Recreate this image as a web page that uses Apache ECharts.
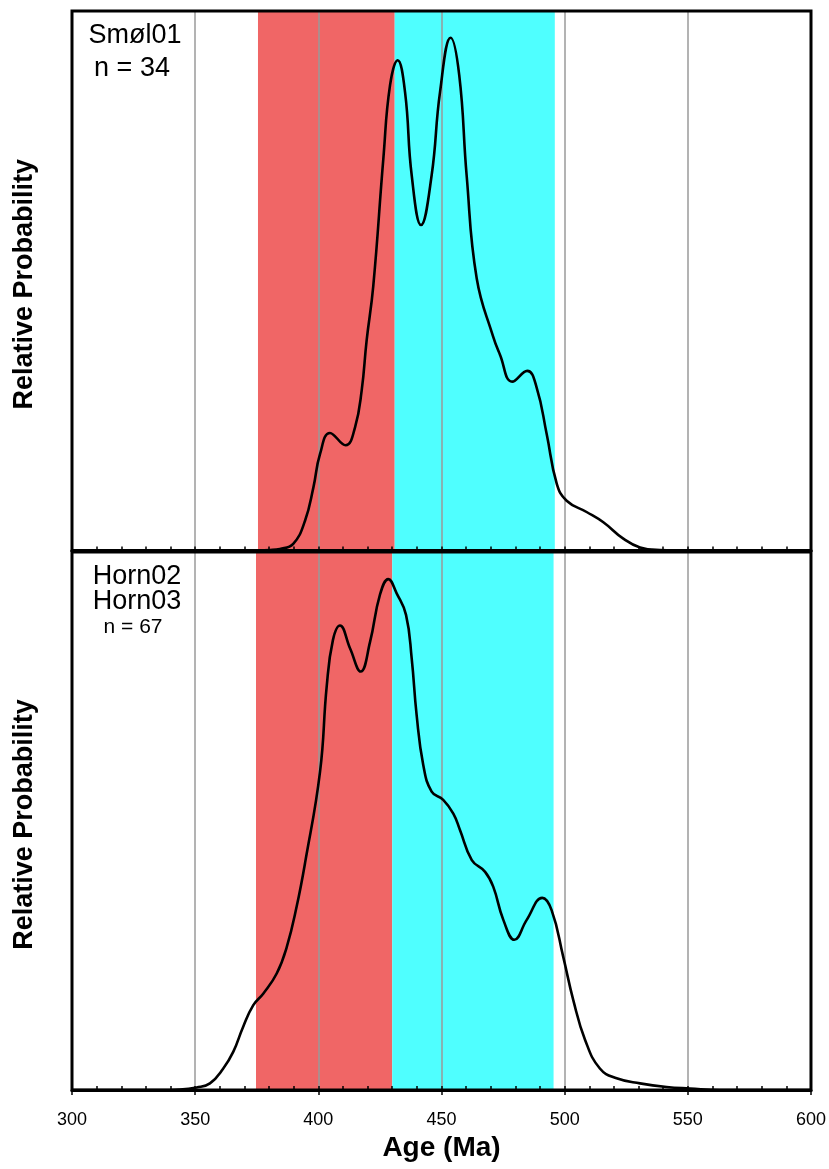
<!DOCTYPE html>
<html>
<head>
<meta charset="utf-8">
<title>Relative probability of detrital ages</title>
<script src="https://cdn.jsdelivr.net/npm/echarts@6/dist/echarts.min.js"></script>
<style>
  html, body { margin: 0; padding: 0; background: #fff; }
  #chart { width: 829px; height: 1169px; }
</style>
</head>
<body>
<div id="chart"></div>
<script>
// Smøl01 probability curve (age in Ma, relative probability)
const smolAges = [300, 370, 380.4, 384.4, 389.8, 394.6, 398.0, 400.7, 404.7, 411.1, 414.9, 417.6, 419.6,
  422.3, 426.4, 429.1, 432.2, 435.2, 437.9, 441.7, 446.0, 449.4, 453.7, 457.2, 460.2, 464.3, 471.0,
  473.7, 478.7, 484.8, 488.6, 492.7, 496.8, 500.8, 508.9, 515.7, 523.8, 530.6, 538.7, 550, 600];
const smolProb = [0, 0, 0.001, 0.003, 0.013, 0.058, 0.123, 0.188, 0.229, 0.205, 0.240, 0.312, 0.409,
  0.515, 0.764, 0.906, 0.955, 0.893, 0.731, 0.634, 0.731, 0.893, 0.999, 0.926, 0.731, 0.530, 0.416,
  0.382, 0.329, 0.350, 0.318, 0.227, 0.130, 0.097, 0.075, 0.055, 0.023, 0.006, 0.001, 0, 0];

// Horn02 + Horn03 probability curve
const hornAges = [300, 335, 343.8, 350.6, 356.0, 361.4, 365.5, 369.5, 373.6, 377.7, 383.1, 387.2, 391.2, 394.6,
  400.7, 403.4, 405.9, 408.8, 412.9, 417.2, 421.0, 425.0, 428.4, 431.8, 435.6, 437.9, 439.9, 442.6,
  446.0, 450.7, 454.8, 457.5, 462.3, 467.7, 471.0, 475.1, 479.6, 484.6, 490.9, 494.7, 499.4, 503.5, 508.3,
  514.3, 521.1, 530.6, 541.4, 550.9, 563, 600];
const hornProb = [0, 0, 0.001, 0.005, 0.013, 0.042, 0.075, 0.124, 0.166, 0.189, 0.228, 0.280, 0.359, 0.444,
  0.623, 0.790, 0.880, 0.909, 0.864, 0.819, 0.877, 0.969, 1.000, 0.972, 0.930, 0.845, 0.734, 0.636,
  0.584, 0.568, 0.541, 0.509, 0.450, 0.427, 0.398, 0.333, 0.294, 0.333, 0.376, 0.352, 0.261, 0.176, 0.098,
  0.042, 0.023, 0.013, 0.006, 0.003, 0, 0];

// Shaded age intervals [start, end] in Ma
const smolRedBand = [375.5, 431];
const smolCyanBand = [431, 496];
const hornRedBand = [374.7, 430];
const hornCyanBand = [430, 495.5];

// Age axis range and tick steps
const ageMin = 300, ageMax = 600, majorStep = 50, minorStep = 10;

const FONT = '"Liberation Sans", Arial, Helvetica, sans-serif';
const RED = '#F06666';
const CYAN = '#4FFFFF';
const GRID_GRAY = '#9a9a9a';

const pairs = (xs, ys) => xs.map((x, i) => [x, ys[i]]);

// Bands sit below the axes (z 1), gridlines above them (axis z 3), curve on top
const bandArea = (red, cyan) => ({
  silent: true,
  z: 1,
  data: [
    [{ xAxis: red[0], itemStyle: { color: RED } }, { xAxis: red[1] }],
    [{ xAxis: cyan[0], itemStyle: { color: CYAN } }, { xAxis: cyan[1] }]
  ]
});

const yNameStyle = {
  fontFamily: FONT, fontWeight: 'bold', fontSize: 27, color: '#000', padding: [0, 7, 0, 0]
};

const chart = echarts.init(document.getElementById('chart'), null, { renderer: 'canvas' });

chart.setOption({
  backgroundColor: '#fff',
  animation: false,
  grid: [
    { left: 72, right: 18, top: 11, height: 539.5, show: true, z: 4, borderColor: '#000', borderWidth: 3, containLabel: false },
    { left: 72, right: 18, top: 552, height: 538, show: true, z: 4, borderColor: '#000', borderWidth: 3, containLabel: false },
    { left: 72, right: 18, top: 552, height: 538, show: false, containLabel: false }
  ],
  xAxis: [
    {
      gridIndex: 0, type: 'value', min: ageMin, max: ageMax, interval: majorStep, z: 3,
      axisLine: { lineStyle: { color: '#000', width: 3 } },
      axisTick: { inside: true, length: 4, lineStyle: { color: '#000', width: 1.5 } },
      minorTick: { show: true, splitNumber: majorStep / minorStep, length: 4, lineStyle: { color: '#000', width: 1.5 } },
      axisLabel: { show: false },
      splitLine: { show: true, lineStyle: { color: GRID_GRAY, width: 1.5 } }
    },
    {
      gridIndex: 1, type: 'value', min: ageMin, max: ageMax, interval: majorStep, z: 3,
      axisLine: { lineStyle: { color: '#000', width: 3 } },
      axisTick: { inside: false, length: 5, lineStyle: { color: '#000', width: 1.5 } },
      axisLabel: { show: true, margin: 21, fontFamily: FONT, fontSize: 18, color: '#000' },
      splitLine: { show: true, lineStyle: { color: GRID_GRAY, width: 1.5 } },
      name: 'Age (Ma)', nameLocation: 'middle', nameGap: 44,
      nameTextStyle: { fontFamily: FONT, fontWeight: 'bold', fontSize: 28, color: '#000' }
    },
    {
      gridIndex: 2, type: 'value', min: ageMin, max: ageMax, interval: minorStep, z: 3,
      axisLine: { show: false },
      axisTick: { inside: true, length: 4, lineStyle: { color: '#000', width: 1.5 } },
      axisLabel: { show: false },
      splitLine: { show: false }
    }
  ],
  yAxis: [
    {
      gridIndex: 0, type: 'value', min: 0, max: 1.051,
      axisLine: { show: false }, axisTick: { show: false }, axisLabel: { show: false }, splitLine: { show: false },
      name: 'Relative Probability', nameLocation: 'middle', nameGap: 34, nameTextStyle: yNameStyle
    },
    {
      gridIndex: 1, type: 'value', min: 0, max: 1.053,
      axisLine: { show: false }, axisTick: { show: false }, axisLabel: { show: false }, splitLine: { show: false },
      name: 'Relative Probability', nameLocation: 'middle', nameGap: 34, nameTextStyle: yNameStyle
    },
    {
      gridIndex: 2, type: 'value', min: 0, max: 1, show: false
    }
  ],
  series: [
    {
      name: 'Smøl01 intervals', type: 'line', xAxisIndex: 0, yAxisIndex: 0, z: 1,
      data: [], silent: true, markArea: bandArea(smolRedBand, smolCyanBand)
    },
    {
      name: 'Horn intervals', type: 'line', xAxisIndex: 1, yAxisIndex: 1, z: 1,
      data: [], silent: true, markArea: bandArea(hornRedBand, hornCyanBand)
    },
    {
      name: 'Smøl01', type: 'line', xAxisIndex: 0, yAxisIndex: 0, z: 5,
      data: pairs(smolAges, smolProb), showSymbol: false, smooth: 0.45,
      lineStyle: { color: '#000', width: 2.6 }
    },
    {
      name: 'Horn02 + Horn03', type: 'line', xAxisIndex: 1, yAxisIndex: 1, z: 5,
      data: pairs(hornAges, hornProb), showSymbol: false, smooth: 0.45,
      lineStyle: { color: '#000', width: 2.6 }
    }
  ],
  graphic: [
    { type: 'text', z: 10, style: { text: 'Smøl01', x: 135, y: 36, align: 'center', verticalAlign: 'middle', font: '27px ' + FONT, fill: '#000' } },
    { type: 'text', z: 10, style: { text: 'n = 34', x: 132, y: 69, align: 'center', verticalAlign: 'middle', font: '27px ' + FONT, fill: '#000' } },
    { type: 'text', z: 10, style: { text: 'Horn02', x: 137, y: 577, align: 'center', verticalAlign: 'middle', font: '27px ' + FONT, fill: '#000' } },
    { type: 'text', z: 10, style: { text: 'Horn03', x: 137, y: 602, align: 'center', verticalAlign: 'middle', font: '27px ' + FONT, fill: '#000' } },
    { type: 'text', z: 10, style: { text: 'n = 67', x: 133, y: 627, align: 'center', verticalAlign: 'middle', font: '21px ' + FONT, fill: '#000' } }
  ]
});
</script>
</body>
</html>
